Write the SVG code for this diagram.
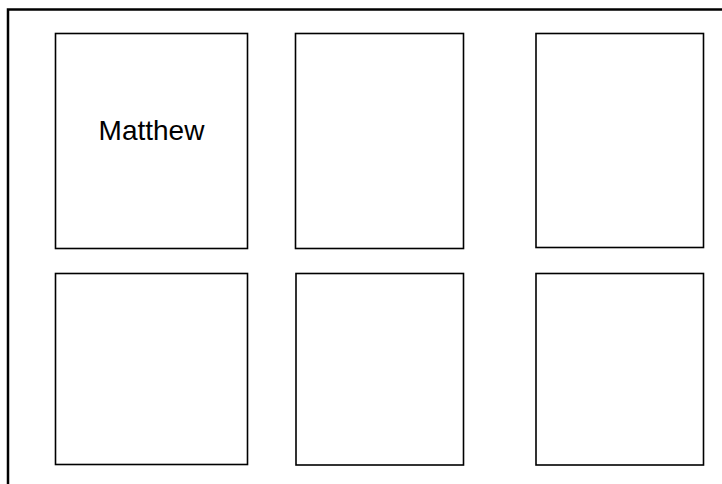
<svg xmlns="http://www.w3.org/2000/svg" width="722" height="484" viewBox="0 0 722 484">
<style>
.frame{fill:none;stroke:#000;stroke-width:2.5}
.box{fill:#fff;stroke:#000;stroke-width:1.6}
.lbl{font-family:"Liberation Sans",Arial,sans-serif;font-size:28px;fill:#000;text-anchor:middle}
</style>
<rect width="722" height="484" fill="#fff"/>
<g id="frame"><path class="frame" d="M8,484 V9.5 H722"/></g>
<g id="box1"><rect class="box" x="55.5" y="33.5" width="192" height="215"/><text class="lbl" x="151.5" y="140">Matthew</text></g>
<g id="box2"><rect class="box" x="295.5" y="33.5" width="168" height="215"/></g>
<g id="box3"><rect class="box" x="536" y="33.5" width="167.5" height="214"/></g>
<g id="box4"><rect class="box" x="55.5" y="273.5" width="192" height="191"/></g>
<g id="box5"><rect class="box" x="296" y="273.5" width="167.5" height="191.5"/></g>
<g id="box6"><rect class="box" x="536" y="273.5" width="167.5" height="191.5"/></g>
<g id="connectors"></g>
</svg>
